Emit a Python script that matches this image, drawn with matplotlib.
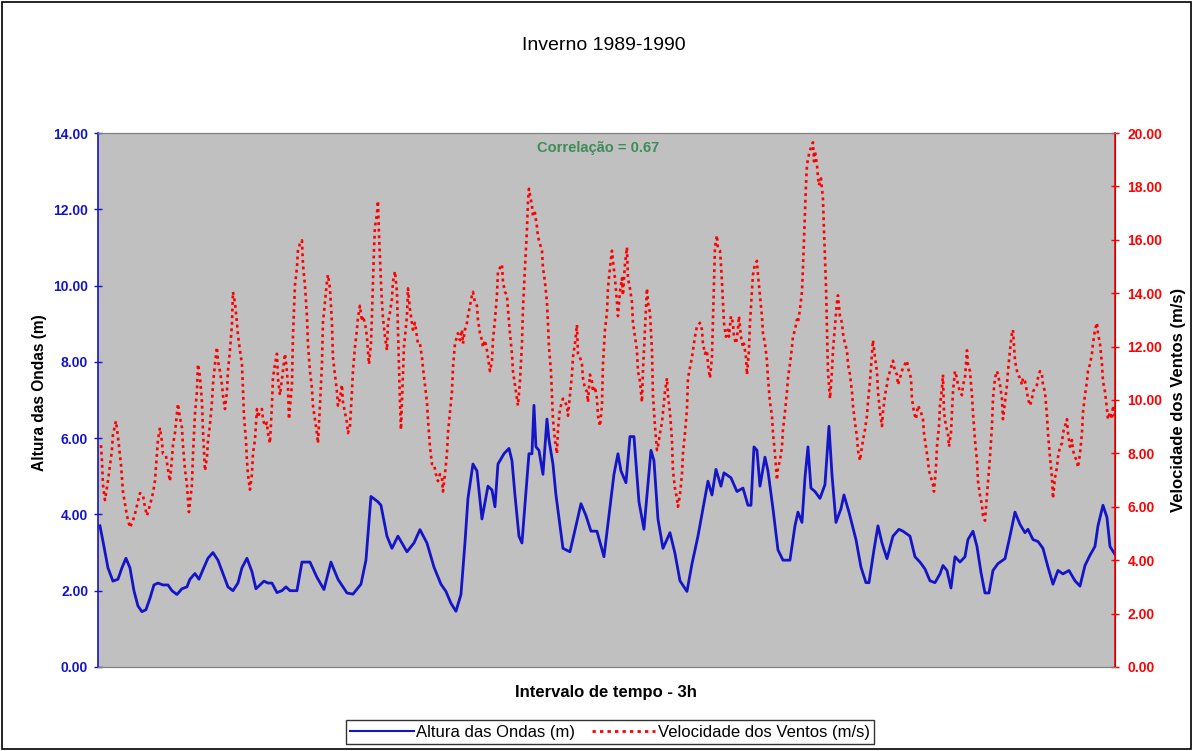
import matplotlib
matplotlib.use("Agg")
import matplotlib.pyplot as plt
from matplotlib.patches import Rectangle
from matplotlib.lines import Line2D

plt.rcParams["font.family"] = ["Liberation Sans", "DejaVu Sans"]

# Altura das ondas (m) - passo de tempo (3h) e valor lido
t_ondas = [2, 5, 10, 15, 20, 24, 28, 32, 36, 40, 44, 48, 52, 56, 60, 65, 70, 74, 79, 84,
           89, 92, 97, 101, 105, 110, 115, 120, 125, 130, 135, 140, 144, 149, 154, 158, 162, 166, 170, 174,
           179, 184, 188, 192, 199, 204, 212, 219, 226, 233, 240, 249, 255, 263, 268, 273, 280, 283, 289, 294,
           300, 309, 316, 322, 329, 336, 343, 348, 353, 358, 363, 367, 370, 375, 379, 384, 390, 394, 397, 400,
           406, 411, 414, 417, 421, 424, 428, 431, 434, 436, 438, 441, 445, 449, 451, 455, 458, 462, 465, 472,
           478, 483, 488, 493, 499, 506, 511, 516, 520, 523, 528, 532, 536, 541, 546, 549, 553, 556, 560, 565,
           572, 577, 582, 589, 594, 600, 605, 610, 614, 618, 623, 626, 633, 639, 645, 650, 653, 656, 659, 662,
           667, 670, 675, 680, 685, 692, 697, 700, 704, 707, 710, 713, 717, 722, 727, 731, 734, 738, 743, 746,
           751, 758, 763, 768, 771, 776, 780, 784, 789, 795, 801, 805, 812, 817, 822, 827, 832, 837, 842, 845,
           849, 853, 857, 862, 867, 870, 875, 879, 883, 887, 891, 895, 900, 907, 912, 917, 922, 927, 930, 935,
           940, 945, 950, 955, 960, 965, 971, 977, 982, 987, 992, 997, 1000, 1005, 1009, 1012, 1017]
altura = [3.70, 3.30, 2.60, 2.25, 2.30, 2.60, 2.85, 2.60, 2.00, 1.60, 1.45, 1.50, 1.80, 2.15, 2.20, 2.15, 2.15, 2.00, 1.90, 2.05,
          2.10, 2.30, 2.45, 2.30, 2.55, 2.85, 3.00, 2.80, 2.45, 2.10, 2.00, 2.20, 2.60, 2.85, 2.50, 2.05, 2.15, 2.25, 2.20, 2.20,
          1.95, 2.00, 2.10, 2.00, 2.00, 2.75, 2.75, 2.35, 2.03, 2.75, 2.30, 1.94, 1.91, 2.17, 2.80, 4.47, 4.33, 4.24, 3.43, 3.11,
          3.43, 3.02, 3.25, 3.60, 3.25, 2.62, 2.17, 1.98, 1.67, 1.46, 1.90, 3.25, 4.42, 5.32, 5.14, 3.88, 4.74, 4.64, 4.20, 5.32,
          5.59, 5.73, 5.41, 4.51, 3.43, 3.25, 4.60, 5.59, 5.59, 6.86, 5.77, 5.68, 5.05, 6.50, 5.95, 5.32, 4.51, 3.70, 3.11, 3.02,
          3.70, 4.28, 3.97, 3.56, 3.56, 2.89, 3.97, 5.05, 5.59, 5.14, 4.83, 6.04, 6.04, 4.33, 3.61, 4.51, 5.68, 5.41, 3.88, 3.11,
          3.52, 2.98, 2.26, 1.98, 2.70, 3.43, 4.15, 4.87, 4.51, 5.18, 4.74, 5.09, 4.96, 4.60, 4.69, 4.24, 4.24, 5.77, 5.68, 4.74,
          5.50, 5.14, 4.15, 3.07, 2.80, 2.80, 3.70, 4.06, 3.79, 4.96, 5.77, 4.69, 4.60, 4.42, 4.78, 6.31, 5.05, 3.79, 4.15, 4.51,
          4.06, 3.34, 2.62, 2.21, 2.21, 3.07, 3.70, 3.25, 2.84, 3.43, 3.61, 3.56, 3.43, 2.89, 2.75, 2.57, 2.26, 2.21, 2.44, 2.66,
          2.53, 2.07, 2.89, 2.75, 2.89, 3.34, 3.56, 3.16, 2.48, 1.94, 1.94, 2.53, 2.71, 2.84, 3.43, 4.06, 3.74, 3.52, 3.61, 3.34,
          3.29, 3.11, 2.62, 2.17, 2.53, 2.44, 2.53, 2.26, 2.12, 2.66, 2.93, 3.16, 3.70, 4.24, 3.92, 3.16, 2.95]

# Velocidade dos ventos (m/s)
t_ventos = [3, 4, 5, 7, 10, 12, 14, 15, 18, 20, 23, 25, 27, 29, 32, 35, 37, 40, 42, 45,
            47, 49, 52, 55, 57, 59, 60, 62, 64, 65, 68, 70, 72, 74, 75, 77, 79, 80, 82, 84,
            85, 87, 89, 90, 91, 94, 95, 97, 99, 100, 102, 104, 105, 107, 109, 110, 112, 114, 115, 117,
            119, 120, 122, 124, 125, 127, 129, 130, 132, 134, 135, 137, 139, 140, 142, 144, 145, 146, 148, 149,
            150, 152, 154, 155, 157, 159, 160, 162, 164, 165, 167, 169, 170, 172, 174, 175, 177, 179, 180, 182,
            185, 187, 189, 190, 191, 194, 195, 197, 199, 200, 202, 204, 205, 207, 209, 210, 212, 214, 215, 217,
            219, 220, 222, 224, 225, 227, 229, 230, 232, 234, 235, 237, 239, 240, 242, 244, 245, 247, 249, 250,
            252, 254, 255, 257, 259, 260, 262, 264, 265, 267, 269, 270, 271, 273, 274, 275, 276, 277, 279, 280,
            281, 282, 283, 284, 285, 287, 289, 290, 292, 294, 295, 297, 299, 300, 301, 302, 303, 305, 306, 309,
            310, 312, 314, 315, 317, 319, 320, 322, 324, 325, 327, 329, 330, 332, 334, 336, 338, 340, 342, 344,
            345, 347, 349, 350, 352, 354, 355, 357, 359, 360, 362, 364, 365, 367, 369, 370, 372, 374, 375, 377,
            379, 380, 382, 384, 385, 387, 389, 390, 392, 394, 395, 397, 399, 400, 404, 405, 407, 409, 410, 412,
            414, 415, 417, 419, 420, 422, 424, 425, 427, 429, 430, 431, 434, 435, 437, 439, 440, 442, 444, 445,
            447, 449, 450, 451, 453, 454, 455, 457, 459, 460, 462, 464, 465, 467, 469, 470, 472, 474, 475, 477,
            479, 480, 482, 484, 485, 487, 489, 490, 492, 494, 495, 497, 499, 500, 502, 504, 505, 507, 509, 510,
            512, 514, 515, 517, 519, 520, 522, 524, 525, 527, 529, 530, 532, 534, 535, 537, 539, 540, 542, 544,
            545, 547, 549, 550, 552, 554, 555, 557, 559, 560, 562, 564, 565, 567, 569, 570, 572, 574, 575, 577,
            579, 580, 582, 584, 585, 587, 589, 590, 592, 594, 595, 597, 599, 602, 604, 605, 607, 609, 610, 612,
            614, 615, 616, 617, 619, 620, 622, 623, 624, 625, 626, 628, 630, 631, 633, 635, 636, 638, 640, 641,
            643, 645, 646, 648, 649, 651, 652, 654, 655, 657, 659, 660, 662, 664, 665, 667, 669, 670, 672, 674,
            675, 677, 679, 680, 682, 684, 685, 687, 689, 690, 692, 694, 695, 697, 699, 700, 702, 704, 705, 706,
            707, 708, 709, 711, 713, 715, 716, 717, 719, 720, 721, 723, 725, 726, 727, 728, 729, 730, 732, 734,
            735, 737, 739, 740, 742, 744, 745, 747, 749, 750, 752, 754, 755, 757, 759, 760, 762, 764, 765, 767,
            769, 770, 772, 774, 775, 777, 779, 780, 782, 784, 785, 787, 789, 790, 792, 794, 795, 797, 799, 800,
            805, 809, 810, 813, 814, 816, 818, 820, 823, 825, 826, 828, 830, 831, 833, 835, 836, 838, 839, 841,
            842, 844, 845, 846, 848, 850, 851, 853, 854, 855, 857, 859, 860, 862, 864, 865, 867, 869, 870, 872,
            874, 875, 877, 879, 880, 882, 884, 885, 887, 889, 890, 892, 894, 895, 897, 899, 900, 902, 904, 905,
            907, 909, 910, 912, 914, 915, 917, 919, 920, 922, 924, 925, 927, 929, 930, 932, 934, 935, 937, 939,
            940, 942, 944, 945, 947, 949, 950, 952, 954, 955, 957, 959, 960, 962, 964, 965, 967, 969, 970, 972,
            974, 975, 977, 979, 980, 982, 984, 985, 987, 989, 990, 992, 994, 995, 997, 999, 1000, 1002, 1004, 1005,
            1007, 1009, 1010, 1012, 1014, 1015, 1017]
vento = [8.31, 7.73, 6.83, 6.25, 6.96, 7.54, 8.12, 8.70, 9.21, 8.63, 7.60, 6.57, 6.12, 5.67, 5.22, 5.48, 5.73, 6.19, 6.51, 6.44,
         5.99, 5.67, 6.06, 6.51, 6.96, 7.99, 8.50, 8.96, 8.44, 7.99, 7.92, 7.41, 6.96, 7.80, 8.31, 8.76, 9.47, 9.86, 9.34, 8.96,
         8.31, 7.41, 6.83, 6.25, 5.80, 6.83, 7.92, 9.47, 10.31, 11.34, 10.89, 9.92, 8.89, 7.35, 7.86, 8.44, 9.08, 9.92, 10.57, 11.34,
         11.98, 11.47, 11.08, 10.57, 10.18, 9.66, 10.31, 11.08, 11.86, 12.82, 14.05, 13.66, 12.89, 12.44, 11.86, 11.34, 10.44, 9.41, 8.50, 7.73,
         7.22, 6.64, 7.22, 7.99, 8.50, 9.66, 9.34, 9.60, 9.66, 9.28, 9.02, 9.15, 8.76, 8.38, 9.79, 10.82, 11.34, 11.73, 10.82, 10.18,
         11.08, 11.73, 11.08, 10.50, 9.28, 10.57, 12.37, 14.30, 14.95, 15.59, 15.85, 15.98, 15.08, 14.30, 13.14, 12.11, 11.08, 10.44, 9.79, 9.28,
         8.76, 8.38, 9.79, 11.34, 12.89, 13.66, 14.43, 14.69, 14.18, 12.89, 11.60, 10.95, 10.31, 9.79, 10.05, 10.57, 9.92, 9.54, 9.15, 8.76,
         9.02, 10.31, 11.08, 11.98, 12.63, 13.08, 13.53, 12.95, 13.14, 12.89, 12.37, 11.86, 11.34, 12.11, 13.14, 14.43, 15.59, 16.49, 16.95, 17.46,
         16.24, 15.34, 14.43, 13.66, 13.08, 12.37, 11.86, 12.89, 13.27, 13.79, 14.43, 14.82, 14.05, 12.63, 11.08, 9.92, 8.89, 10.95, 11.98, 13.14,
         14.18, 13.40, 12.89, 12.63, 12.89, 12.37, 12.11, 12.11, 11.60, 11.21, 10.57, 9.92, 9.28, 8.25, 7.60, 7.60, 7.22, 6.96, 7.22, 7.09,
         6.57, 7.22, 7.99, 8.76, 9.54, 10.31, 11.21, 12.11, 12.37, 12.50, 12.24, 12.63, 12.11, 12.63, 12.89, 13.14, 13.53, 13.92, 14.05, 13.66,
         13.53, 13.01, 12.50, 12.24, 11.98, 12.24, 11.86, 11.60, 11.08, 11.47, 12.24, 13.01, 13.92, 14.82, 15.08, 14.43, 14.05, 13.92, 13.40, 12.50,
         11.73, 11.08, 10.57, 10.05, 9.79, 10.70, 12.11, 13.40, 14.95, 16.37, 17.40, 17.91, 17.27, 16.88, 17.01, 16.49, 16.11, 15.85, 15.59, 14.95,
         14.43, 13.66, 12.89, 11.98, 11.08, 10.18, 9.28, 8.50, 7.99, 8.89, 9.66, 9.92, 10.05, 9.92, 9.79, 9.41, 10.18, 10.95, 11.60, 12.11,
         12.82, 11.73, 11.60, 11.34, 10.82, 10.44, 10.31, 9.92, 10.95, 10.70, 10.31, 10.50, 10.05, 9.41, 9.02, 9.79, 11.34, 12.63, 13.27, 14.18,
         14.95, 15.59, 15.21, 14.56, 13.66, 13.14, 14.05, 14.56, 13.92, 15.08, 15.72, 14.56, 14.18, 13.66, 12.89, 12.37, 11.86, 11.08, 10.70, 9.92,
         11.08, 12.63, 14.18, 13.66, 13.27, 11.86, 10.18, 9.02, 8.12, 8.25, 8.76, 9.15, 9.54, 10.31, 10.82, 10.18, 9.54, 8.50, 7.35, 6.70,
         6.31, 6.00, 6.44, 7.22, 7.99, 8.76, 9.66, 10.82, 11.21, 11.60, 11.86, 12.37, 12.76, 12.89, 12.63, 12.11, 11.73, 11.86, 11.34, 10.82,
         11.60, 13.01, 14.56, 15.72, 16.17, 15.66, 15.59, 15.08, 14.43, 13.66, 12.89, 12.37, 12.63, 12.37, 13.14, 12.89, 12.37, 12.11, 12.63, 13.14,
         12.37, 11.98, 12.11, 11.60, 10.95, 11.86, 12.89, 14.05, 14.69, 15.08, 15.21, 14.69, 13.92, 13.14, 12.50, 12.11, 11.47, 10.82, 9.92, 9.41,
         8.76, 7.99, 7.00, 7.47, 7.73, 8.25, 8.89, 9.54, 10.31, 10.82, 11.34, 11.98, 12.37, 12.63, 13.01, 12.89, 13.40, 14.05, 14.95, 15.98,
         17.01, 18.04, 18.81, 19.20, 19.46, 19.65, 18.94, 19.33, 18.81, 18.36, 18.04, 18.30, 17.53, 16.37, 15.34, 14.30, 12.60, 11.08, 10.05, 11.08,
         11.86, 12.76, 13.66, 13.92, 13.14, 12.89, 12.50, 12.11, 11.86, 11.34, 10.95, 10.31, 9.79, 9.15, 8.63, 8.12, 7.73, 8.25, 8.50, 8.89,
         9.41, 9.92, 10.70, 11.73, 12.24, 11.60, 11.08, 10.31, 9.54, 9.02, 9.54, 10.18, 10.57, 10.82, 11.08, 11.34, 11.47, 11.08, 10.95, 10.57,
         11.21, 11.47, 11.21, 10.82, 10.05, 9.54, 9.28, 9.79, 9.54, 9.28, 8.76, 8.25, 7.73, 7.35, 7.09, 6.83, 6.57, 7.47, 8.25, 9.02,
         9.79, 10.44, 10.95, 9.54, 9.02, 8.76, 8.25, 8.76, 9.54, 10.31, 11.08, 10.82, 10.57, 10.31, 10.18, 10.57, 10.82, 11.86, 11.34, 11.08,
         10.18, 9.54, 8.50, 7.73, 6.96, 6.44, 6.06, 5.67, 5.48, 6.44, 6.96, 7.86, 9.02, 10.05, 10.82, 11.08, 10.95, 10.57, 10.05, 9.28,
         9.92, 10.57, 11.08, 11.86, 12.50, 12.63, 11.47, 11.08, 10.95, 10.82, 10.57, 10.82, 10.70, 10.31, 10.05, 9.79, 10.05, 10.31, 10.44, 10.57,
         10.82, 11.08, 10.95, 10.57, 10.31, 9.41, 8.76, 7.86, 7.09, 6.31, 7.09, 7.47, 7.86, 8.25, 8.38, 8.76, 9.02, 9.28, 8.76, 8.25,
         8.50, 8.12, 7.86, 7.73, 7.47, 7.99, 8.76, 9.54, 10.18, 10.70, 11.08, 11.34, 11.73, 12.11, 12.63, 12.89, 12.50, 12.11, 11.34, 10.70,
         10.31, 9.66, 9.28, 9.54, 9.28, 9.79, 9.41]

titulo = "Inverno 1989-1990"
correlacao = "Correlação = 0.67"

azul = "#1414c8"
vermelho = "#ff0000"

fig = plt.figure(figsize=(11.93, 7.51), dpi=100)
fig.patch.set_facecolor("white")
fig.patches.append(Rectangle((0.002, 0.002), 0.996, 0.995, transform=fig.transFigure,
                             fill=False, edgecolor="black", linewidth=1.2))

ax = fig.add_axes([0.0821, 0.1119, 0.8525, 0.7110])
ax.set_facecolor("#c0c0c0")
ax.plot(t_ondas, altura, color=azul, linewidth=2.0, zorder=3)
ax.set_xlim(0, 1017)
ax.set_ylim(0, 14)
ax.set_yticks(range(0, 15, 2))
ax.set_yticklabels([f"{v:.2f}" for v in range(0, 15, 2)])
ax.set_xticks([])
ax.tick_params(axis="y", colors=azul, direction="inout", length=6, width=1,
               labelsize=10, pad=4)
for lab in ax.get_yticklabels():
    lab.set_fontweight("bold")
ax.spines["left"].set_color(azul)
ax.spines["left"].set_linewidth(1.2)
for s in ["top", "bottom"]:
    ax.spines[s].set_color("#808080")

ax2 = ax.twinx()
ax2.plot(t_ventos, vento, color=vermelho, linewidth=1.9,
         linestyle=(0, (1.1, 1.4)), zorder=2)
ax2.set_ylim(0, 20)
ax2.set_yticks(range(0, 21, 2))
ax2.set_yticklabels([f"{v:.2f}" for v in range(0, 21, 2)])
ax2.tick_params(axis="y", colors=vermelho, direction="inout", length=6, width=1,
                labelsize=10, pad=6)
for lab in ax2.get_yticklabels():
    lab.set_fontweight("bold")
ax2.spines["right"].set_color(vermelho)
ax2.spines["right"].set_linewidth(1.2)
ax2.spines["left"].set_visible(False)
for s in ["top", "bottom"]:
    ax2.spines[s].set_color("#808080")

# rótulos dos eixos e títulos
fig.text(40 / 1193, 1 - 393 / 751, "Altura das Ondas (m)", rotation=90,
         ha="center", va="center", fontsize=11.2, fontweight="bold")
fig.text(1178 / 1193, 1 - 400 / 751, "Velocidade dos Ventos (m/s)", rotation=90,
         ha="center", va="center", fontsize=12, fontweight="bold")
fig.text(606 / 1193, 1 - 693 / 751, "Intervalo de tempo - 3h",
         ha="center", va="center", fontsize=12, fontweight="bold")
ax.text(0.492, 0.972, correlacao, transform=ax.transAxes, ha="center", va="center",
        color="#3c8c5a", fontsize=10.5, fontweight="bold")
fig.text(604 / 1193, 1 - 46 / 751, titulo, ha="center", va="center", fontsize=14)

leg = fig.legend([Line2D([], [], color=azul, linewidth=1.5),
                  Line2D([], [], color=vermelho, linewidth=2, linestyle=(0, (1.2, 1.5)))],
                 ["Altura das Ondas (m)", "Velocidade dos Ventos (m/s)"],
                 loc="center", bbox_to_anchor=(610 / 1193, 1 - 732 / 751), ncol=2, frameon=True,
                 fancybox=False, edgecolor="black", fontsize=12, handlelength=3.8,
                 handletextpad=0.15, columnspacing=1.0, borderpad=0.25)
leg.get_frame().set_linewidth(1.0)

fig.savefig("out.png", dpi=100)
